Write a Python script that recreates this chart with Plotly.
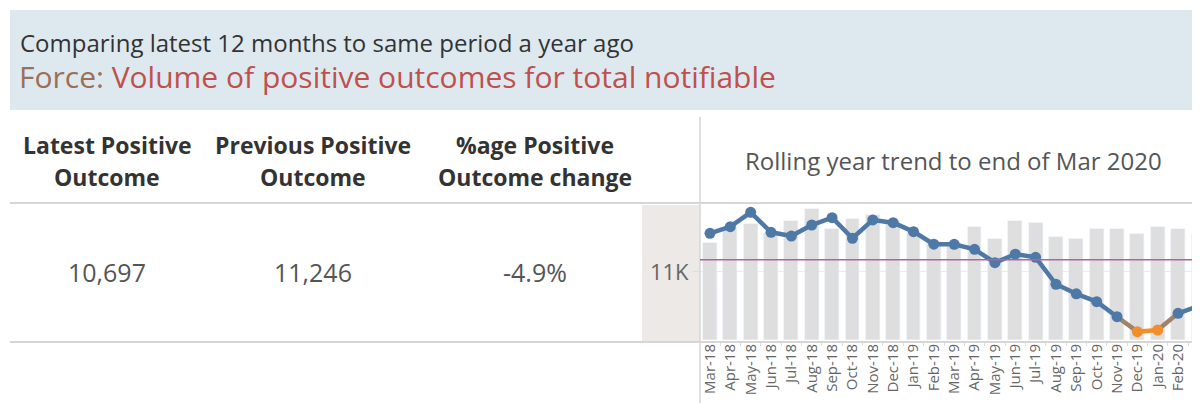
import plotly.graph_objects as go

W, H = 1200, 403
OFF = 8  # page body margin: the figure is drawn 8px in from the window's top-left

# ---------------- data ----------------
months = ["Mar-18", "Apr-18", "May-18", "Jun-18", "Jul-18", "Aug-18", "Sep-18", "Oct-18",
          "Nov-18", "Dec-18", "Jan-19", "Feb-19", "Mar-19", "Apr-19", "May-19", "Jun-19",
          "Jul-19", "Aug-19", "Sep-19", "Oct-19", "Nov-19", "Dec-19", "Jan-20", "Feb-20", "Mar-20"]
monthly_positive = [793, 913, 943, 872, 972, 1068, 902, 986, 1019, 970, 883, 801, 793,
                    923, 821, 970, 956, 842, 823, 905, 905, 861, 923, 905, 863]
rolling_year = [11344, 11403, 11531, 11353, 11320, 11418, 11483, 11300, 11463, 11439, 11359,
                11247, 11246, 11202, 11083, 11158, 11131, 10891, 10806, 10736, 10602, 10469,
                10484, 10632, 10697]
highlight_months = ["Dec-19", "Jan-20"]
reference_value = 11110
y_tick_vals = [11000]
y_tick_text = ["11K"]

subtitle = "Comparing latest 12 months to same period a year ago"
title_prefix = "Force:"
title_main = "Volume of positive outcomes for total notifiable"
kpi_headers = [("Latest Positive", "Outcome"), ("Previous Positive", "Outcome"),
               ("%age Positive", "Outcome change")]
kpi_values = ["10,697", "11,246", "-4.9%"]
trend_title = "Rolling year trend to end of Mar 2020"

# ---------------- styling ----------------
FONT = "Open Sans"
BLUE = "#4e79a7"
ORANGE = "#f28e2b"
MIX = "#a08369"
BAR = "#dedede"


def px(x):
    return (x - OFF) / W


def py(y):
    return 1 - (y - OFF) / H


fig = go.Figure()

fig.add_trace(go.Bar(x=months, y=monthly_positive, marker_color=BAR, width=0.68,
                     xaxis="x", yaxis="y", hoverinfo="skip"))

is_hl = [m in highlight_months for m in months]
for i in range(len(months) - 1):
    a, b = is_hl[i], is_hl[i + 1]
    col = ORANGE if (a and b) else (MIX if a != b else BLUE)
    fig.add_trace(go.Scatter(x=months[i:i + 2], y=rolling_year[i:i + 2], mode="lines",
                             line=dict(color=col, width=4.5), xaxis="x", yaxis="y2",
                             hoverinfo="skip"))
fig.add_trace(go.Scatter(x=months, y=rolling_year, mode="markers",
                         marker=dict(color=[ORANGE if h else BLUE for h in is_hl], size=11),
                         xaxis="x", yaxis="y2"))

shapes = [
    dict(type="rect", xref="paper", yref="paper", x0=px(10), x1=1, y0=py(110), y1=py(10),
         fillcolor="#dee9ef", line=dict(width=0), layer="below"),
    dict(type="rect", xref="paper", yref="paper", x0=px(642), x1=px(700), y0=py(342), y1=py(205),
         fillcolor="#ede9e6", line=dict(width=0), layer="below"),
    dict(type="line", xref="paper", yref="paper", x0=px(10), x1=1, y0=py(203), y1=py(203),
         line=dict(color="#d6d6d6", width=2)),
    dict(type="line", xref="paper", yref="paper", x0=px(10), x1=1, y0=py(342), y1=py(342),
         line=dict(color="#d6d6d6", width=2)),
    dict(type="line", xref="paper", yref="paper", x0=px(700), x1=px(700), y0=0, y1=py(117),
         line=dict(color="#d6d6d6", width=1.5)),
    dict(type="line", xref="paper", yref="y2", x0=px(700), x1=1, y0=reference_value,
         y1=reference_value, line=dict(color="#b0649c", width=1.5), layer="above"),
]

ann = []
ann.append(dict(x=px(18), y=py(42), xref="paper", yref="paper", xanchor="left", yanchor="middle",
                text=subtitle, showarrow=False, font=dict(family=FONT, size=24, color="#333333")))
ann.append(dict(x=px(17), y=py(77), xref="paper", yref="paper", xanchor="left", yanchor="middle",
                text=f"<span style='color:#9c6f57'>{title_prefix}</span> {title_main}",
                showarrow=False, font=dict(family=FONT, size=30, color="#c0504d")))
col_x = [107, 313, 535]
for cx, (l1, l2), val in zip(col_x, kpi_headers, kpi_values):
    ann.append(dict(x=px(cx), y=py(145), xref="paper", yref="paper", xanchor="center",
                    yanchor="middle", text=f"<b>{l1}</b>", showarrow=False,
                    font=dict(family=FONT, size=23, color="#333333")))
    ann.append(dict(x=px(cx), y=py(177), xref="paper", yref="paper", xanchor="center",
                    yanchor="middle", text=f"<b>{l2}</b>", showarrow=False,
                    font=dict(family=FONT, size=23, color="#333333")))
    ann.append(dict(x=px(cx), y=py(272), xref="paper", yref="paper", xanchor="center",
                    yanchor="middle", text=val, showarrow=False,
                    font=dict(family=FONT, size=25, color="#555555")))
ann.append(dict(x=px(953), y=py(160), xref="paper", yref="paper", xanchor="center",
                yanchor="middle", text=trend_title, showarrow=False,
                font=dict(family=FONT, size=24, color="#555555")))

fig.update_layout(
    width=W, height=H, autosize=False,
    margin=dict(l=0, r=0, t=0, b=0),
    paper_bgcolor="white", plot_bgcolor="white",
    showlegend=False, bargap=0,
    font=dict(family=FONT),
    shapes=shapes, annotations=ann,
    xaxis=dict(type="category", domain=[px(700), 1], range=[-0.49, 24.47], anchor="y",
               tickangle=-90, ticks="outside", tickson="boundaries", ticklen=5,
               tickcolor="#dddddd", showgrid=False, showline=False, zeroline=False,
               tickfont=dict(family=FONT, size=15, color="#666666")),
    yaxis=dict(domain=[py(340), py(205)], range=[0, 1100], visible=False, showgrid=False),
    yaxis2=dict(overlaying="y", side="left", range=[10395, 11596], tickvals=y_tick_vals,
                ticktext=y_tick_text, showgrid=True, gridcolor="#ebebeb", ticks="outside",
                ticklen=6, tickcolor="#dddddd", showline=False, zeroline=False,
                tickfont=dict(family=FONT, size=22, color="#666666")),
)

fig.write_html("out.html")
